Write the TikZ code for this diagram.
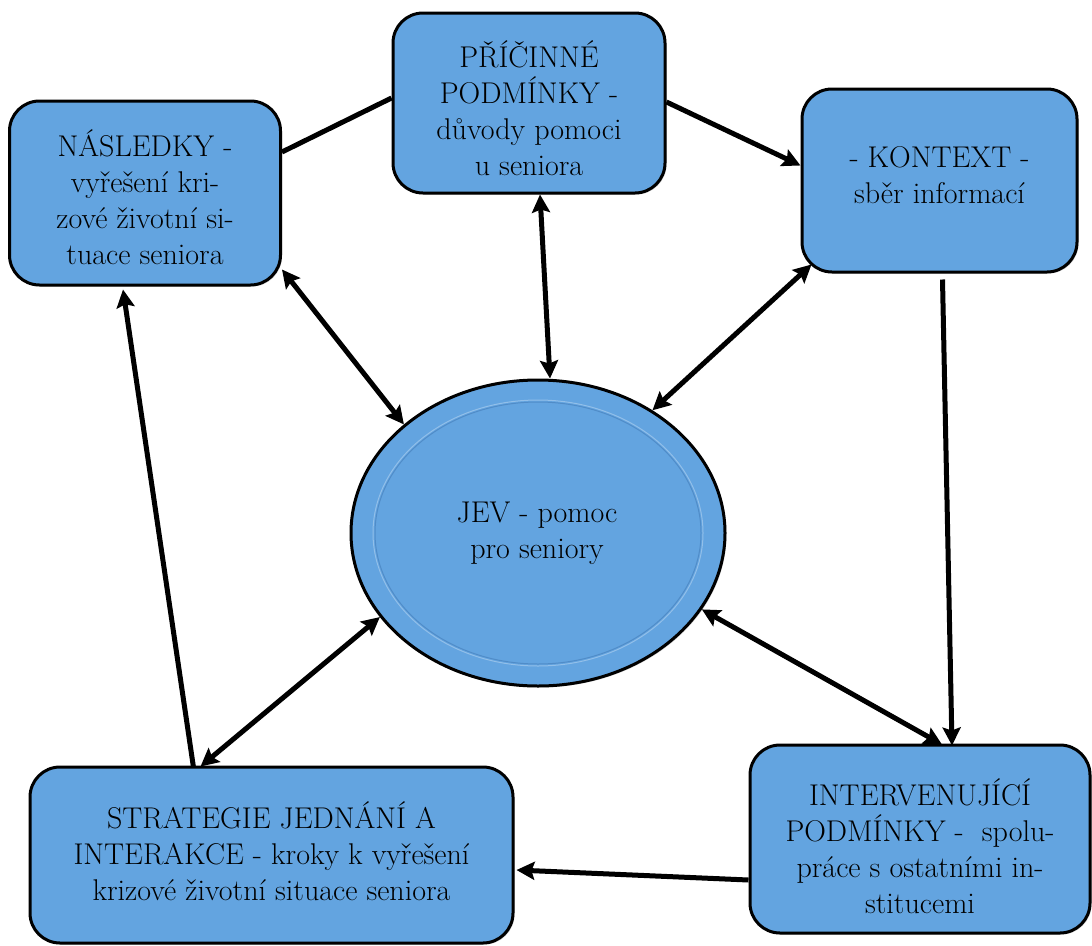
\documentclass[tikz,border=0pt]{standalone}
\usepackage{fontspec}
\usetikzlibrary{arrows.meta,shapes.geometric,shadows}
\definecolor{boxblue}{RGB}{99,164,224}
\definecolor{rimblue}{RGB}{80,140,200}
\tikzset{
  box/.style={draw=black, line width=3pt, fill=boxblue, rounded corners=30pt,
    inner sep=0pt,
    drop shadow={shadow xshift=1.5pt, shadow yshift=-1.5pt, opacity=0.35}},
  jev/.style={draw=black, line width=3pt, fill=boxblue, ellipse,
    inner sep=0pt, minimum width=374pt, minimum height=306pt,
    drop shadow={shadow xshift=1.5pt, shadow yshift=-1.5pt, opacity=0.35}},
  lbl/.style={align=center, font=\rmfamily\fontsize{30}{36}\selectfont},
  conn/.style={line width=5pt, draw=black},
  tip/.tip={Stealth[length=18pt,width=18pt,inset=3pt]},
  one/.style={conn, -tip},
  two/.style={conn, tip-tip}
}
\begin{document}
\begin{tikzpicture}[x=1pt,y=-1pt]
\useasboundingbox (0,0) rectangle (1092,945);

\node[box, minimum width=271pt, minimum height=184pt] (nas) at (145,193) {};
\node[lbl] (nast) at (145,197) {NÁSLEDKY -\\vyřešení kri-\\zové životní si-\\tuace seniora};

\node[box, minimum width=272pt, minimum height=180pt] (pri) at (529,103) {};
\node[lbl] (prit) at (529,108) {PŘÍČINNÉ\\PODMÍNKY -\\důvody pomoci\\u seniora};

\node[box, minimum width=275pt, minimum height=183pt] (kon) at (939.5,180.5) {};
\node[lbl] (kont) at (939.5,175) {- KONTEXT -\\sběr informací};

\node[jev] (ell) at (538,533) {};
\draw[rimblue, line width=1pt] (ell.center) ellipse [x radius=163pt, y radius=131pt];
\draw[white!30!boxblue, line width=1pt] (ell.center) ellipse [x radius=165pt, y radius=133pt];
\node[lbl] (ellt) at (537,533) {JEV - pomoc\\pro seniory};

\node[box, minimum width=483pt, minimum height=176pt] (str) at (271.5,855) {};
\node[lbl] (strt) at (271.5,851) {STRATEGIE JEDNÁNÍ A\\INTERAKCE - kroky k vyřešení\\krizové životní situace seniora};

\node[box, minimum width=340pt, minimum height=188pt] (int) at (920,839) {};
\node[lbl] (intt) at (920,846) {INTERVENUJÍCÍ\\PODMÍNKY -\ \ spolu-\\práce s ostatními in-\\stitucemi};

% connectors
\draw[conn] ([yshift=41pt]nas.east) -- ([yshift=5pt]pri.west);
\draw[one] ([yshift=1pt]pri.east) -- ([yshift=15pt]kon.west);
\draw[two] ([xshift=11pt]pri.south) -- ([xshift=12pt]ell.north);
\draw[two] ([yshift=17pt]nas.south east) -- (ell.141);
\draw[two] ([xshift=11pt,yshift=9pt]kon.south west) -- (ell.47);
\coordinate (konout) at ([xshift=3pt,yshift=-6pt]kon.south);
\draw[one] (konout) -- ([xshift=32pt,yshift=-2pt]int.north);
\draw[two] (ell.335.5) -- ([xshift=22pt,yshift=-1pt]int.north);
\draw[two] (ell.208) -- ([xshift=-71pt,yshift=-1pt]str.north);
\draw[one] ([xshift=-78pt,yshift=-2pt]str.north) -- ([xshift=-22pt,yshift=-3pt]nas.south);
\draw[one] ([yshift=-41pt]int.west) -- ([xshift=2pt,yshift=-15pt]str.east);
\end{tikzpicture}
\end{document}
